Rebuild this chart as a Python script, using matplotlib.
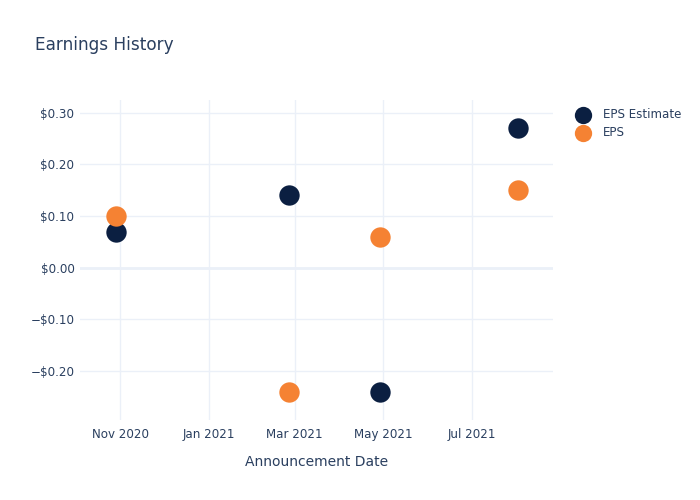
import matplotlib
matplotlib.use("Agg")
import matplotlib.pyplot as plt
import datetime as dt

dates = ["2020-10-29", "2021-02-25", "2021-04-29", "2021-08-02"]
eps_estimate = [0.07, 0.14, -0.24, 0.27]
eps_actual = [0.10, -0.24, 0.06, 0.15]
x_ticks = ["2020-11-01", "2021-01-01", "2021-03-01", "2021-05-01", "2021-07-01"]
x_tick_labels = ["Nov 2020", "Jan 2021", "Mar 2021", "May 2021", "Jul 2021"]
y_ticks = [-0.2, -0.1, 0.0, 0.1, 0.2, 0.3]

to_dt = lambda s: dt.datetime.strptime(s, "%Y-%m-%d")
xd = [to_dt(d) for d in dates]

text_color = "#2a3f5f"
grid_color = "#EBF0F8"
navy = "#0b1f41"
orange = "#f58233"

plt.rcParams['font.family'] = ['DejaVu Sans']

fig = plt.figure(figsize=(7, 5), dpi=100)
ax = fig.add_axes([80/700, 80/500, 473/700, 320/500])

ax.scatter(xd, eps_estimate, s=215, color=navy, label="EPS Estimate", zorder=3, linewidths=0)
ax.scatter(xd, eps_actual, s=215, color=orange, label="EPS", zorder=3, linewidths=0)

ax.set_xlim(to_dt("2020-10-04") + dt.timedelta(hours=6), to_dt("2021-08-26"))
ax.set_ylim(-0.2946, 0.3246)

ax.set_xticks([to_dt(t) for t in x_ticks])
ax.set_xticklabels(x_tick_labels)
ax.set_yticks(y_ticks)
def fmt(v):
    s = "$%.2f" % abs(v)
    return ("\u2212" + s) if v < -1e-9 else s
ax.set_yticklabels([fmt(v) for v in y_ticks])

ax.grid(True, color=grid_color, linewidth=1, zorder=0)
ax.axhline(0, color=grid_color, linewidth=2, zorder=1)
for sp in ax.spines.values():
    sp.set_visible(False)
ax.tick_params(axis='both', length=0, colors=text_color, labelsize=8.6)
ax.tick_params(axis='y', pad=4)
ax.tick_params(axis='x', pad=6)
ax.set_axisbelow(True)

ax.set_xlabel("Announcement Date", color=text_color, fontsize=10, labelpad=10)

fig.text(35/700, 1 - 45/500, "Earnings History", color=text_color, fontsize=12.2,
         va='center', ha='left')

leg = ax.legend(loc='upper left', bbox_to_anchor=(565/700, 1 - 102/500),
                bbox_transform=fig.transFigure, frameon=False, fontsize=8.6,
                labelcolor=text_color, handletextpad=0.7, labelspacing=0.45,
                borderpad=0, markerscale=0.85)

fig.savefig("out.png", dpi=100)
